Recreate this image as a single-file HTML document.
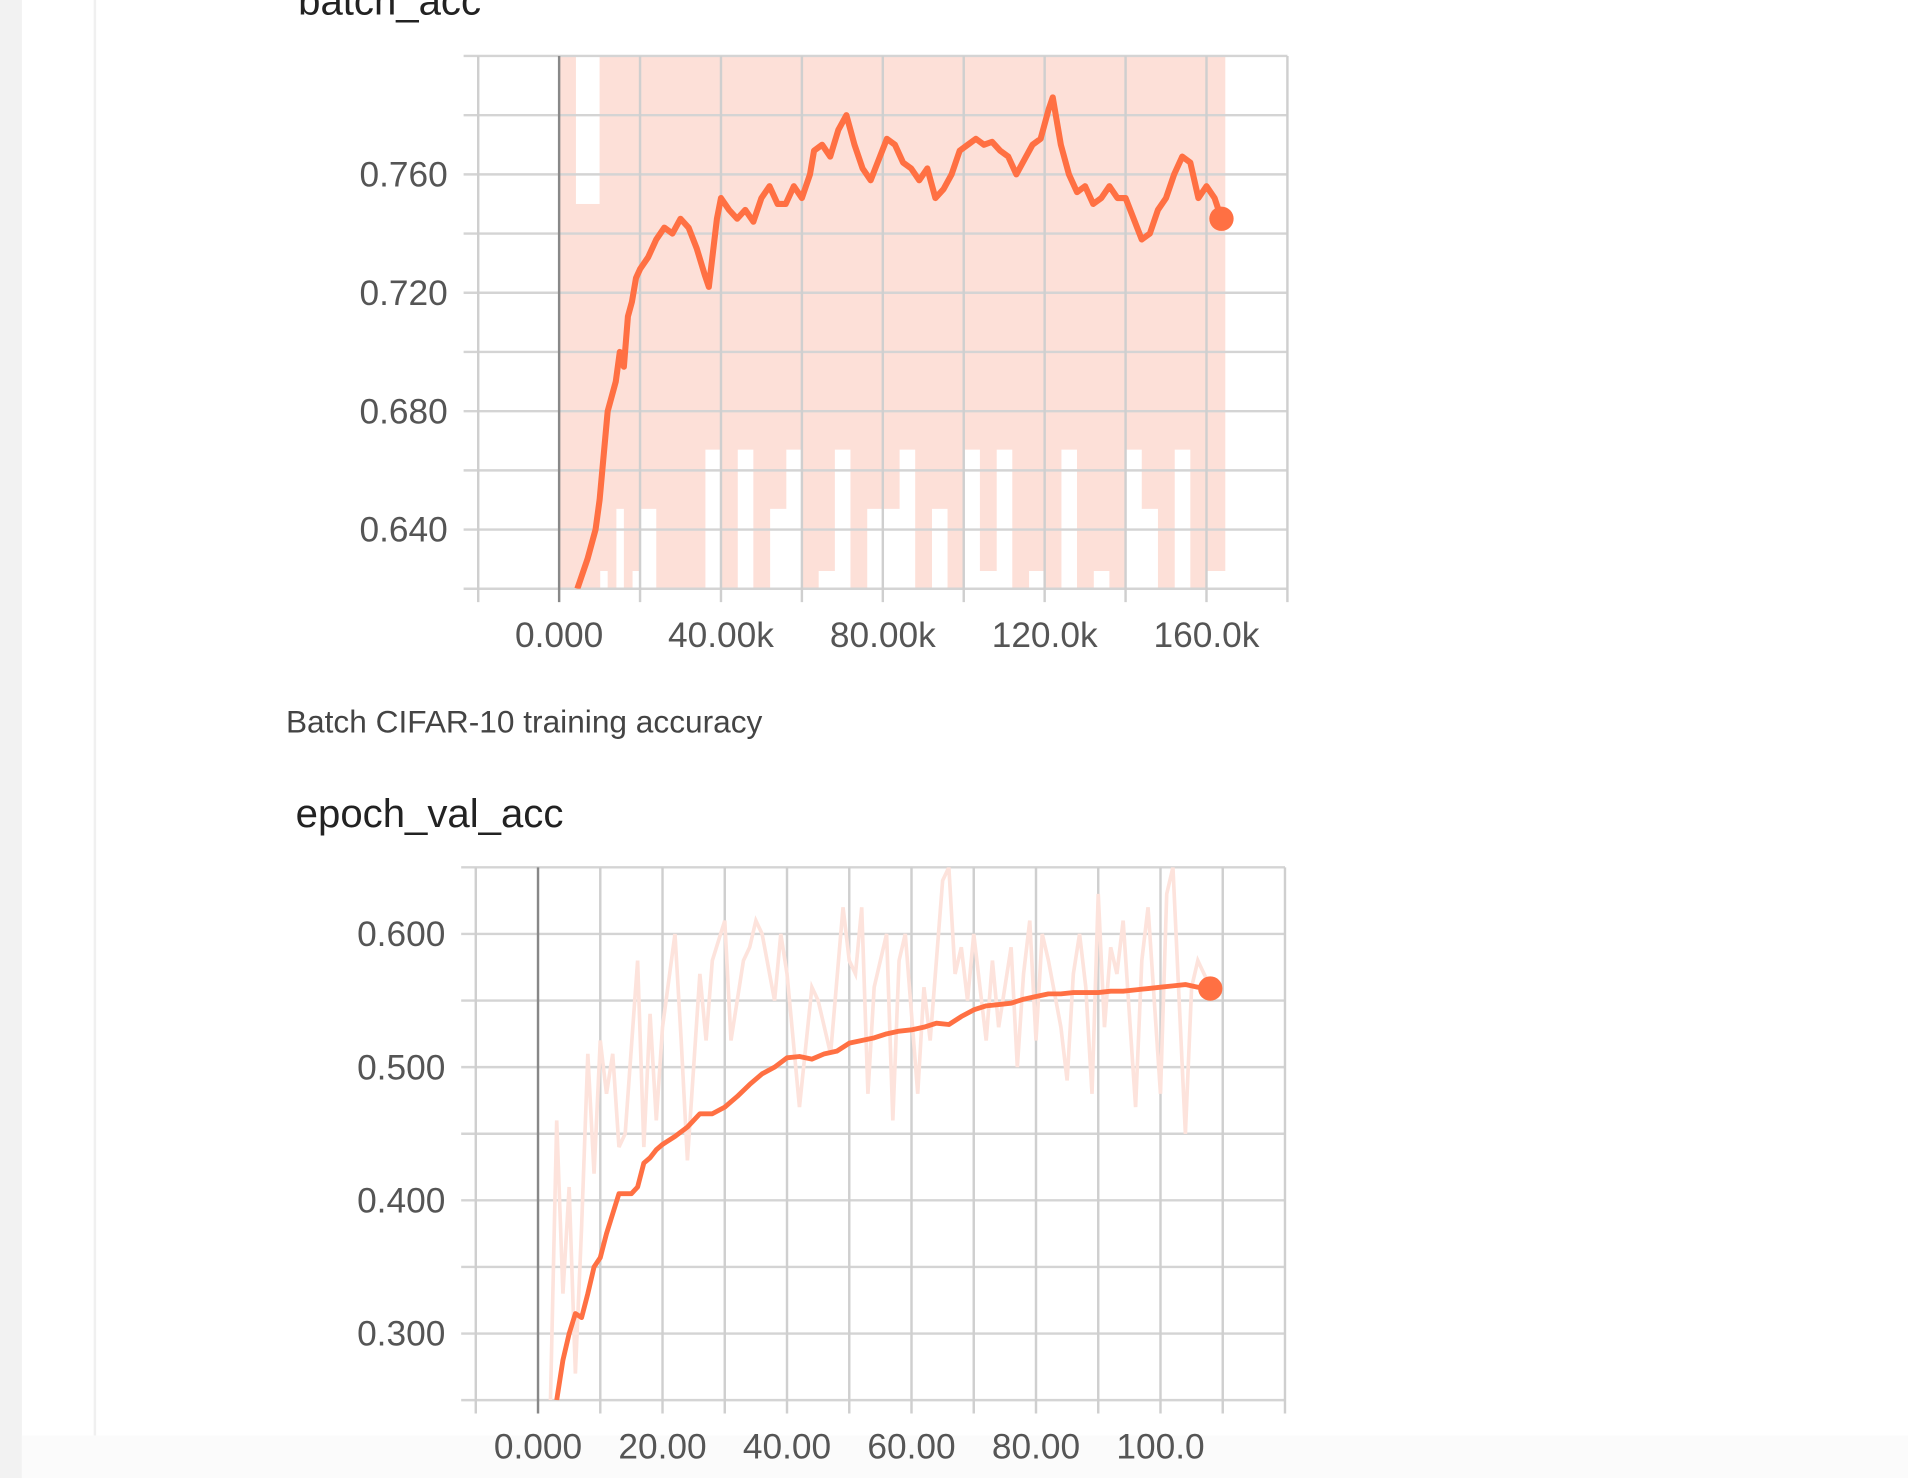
<!DOCTYPE html>
<html><head><meta charset="utf-8"><style>
html,body{margin:0;padding:0;background:#fff;width:1908px;height:1478px;overflow:hidden}
svg{display:block}
text{font-family:"Liberation Sans",sans-serif}
</style></head><body>
<svg id="s" width="1908" height="1478" viewBox="0 0 1568 1215" preserveAspectRatio="none">
<rect x="0" y="0" width="18" height="1215" fill="#f2f2f2"/>
<line x1="78" y1="0" x2="78" y2="1215" stroke="#f0f0f0" stroke-width="2"/>
<rect x="18" y="1180" width="1550" height="35" fill="#fbfbfb"/>
<text x="245" y="12" font-size="33" fill="#222">batch_acc</text>
<g id="c1"></g>
<text x="235" y="602" font-size="26" fill="#444">Batch CIFAR-10 training accuracy</text>
<text x="243" y="680" font-size="33" fill="#222">epoch_val_acc</text>
<g id="c2"></g>
</svg>
<script>
// ---- chart 1 data (step in thousands) ----
const batchSteps = [4.5,7,9,10,11,12,14,15,16,17,18,19,20,22,24,26,28,30,32,34,36,37,39,40,42,44,46,48,50,52,54,56,58,60,62,63,65,67,69,71,73,75,77,79,81,83,85,87,89,91,93,95,97,99,101,103,105,107,109,111,113,115,117,119,121,122,124,126,128,130,132,134,136,138,140,142,144,146,148,150,152,154,156,158,160,162,163.7];
const batchSmooth = [0.620,0.630,0.640,0.650,0.665,0.680,0.690,0.700,0.695,0.712,0.717,0.725,0.728,0.732,0.738,0.742,0.740,0.745,0.742,0.735,0.726,0.722,0.745,0.752,0.748,0.745,0.748,0.744,0.752,0.756,0.750,0.750,0.756,0.752,0.760,0.768,0.770,0.766,0.775,0.780,0.770,0.762,0.758,0.765,0.772,0.770,0.764,0.762,0.758,0.762,0.752,0.755,0.760,0.768,0.770,0.772,0.770,0.771,0.768,0.766,0.760,0.765,0.770,0.772,0.782,0.786,0.770,0.760,0.754,0.756,0.750,0.752,0.756,0.752,0.752,0.745,0.738,0.740,0.748,0.752,0.760,0.766,0.764,0.752,0.756,0.752,0.745];
const rawBucketStart = [0,2,4,8,10,12,14,16,18,20,24,28,32,36,40,44,48,52,56,60,64,68,72,76,80,84,88,92,96,100,104,108,112,116,120,124,128,132,136,140,144,148,152,156,160];
const rawHigh = [0.8,0.8,0.75,0.75,0.8,0.8,0.8,0.8,0.8,0.8,0.8,0.8,0.8,0.8,0.8,0.8,0.8,0.8,0.8,0.8,0.8,0.8,0.8,0.8,0.8,0.8,0.8,0.8,0.8,0.8,0.8,0.8,0.8,0.8,0.8,0.8,0.8,0.8,0.8,0.8,0.8,0.8,0.8,0.8,0.8];
const rawLow = [0.62,0.62,0.62,0.62,0.626,0.62,0.647,0.62,0.626,0.647,0.62,0.62,0.62,0.667,0.62,0.667,0.62,0.647,0.667,0.62,0.626,0.667,0.62,0.647,0.647,0.667,0.62,0.647,0.62,0.667,0.626,0.667,0.62,0.626,0.62,0.667,0.62,0.626,0.62,0.667,0.647,0.62,0.667,0.62,0.626];
const yTicks1 = ["0.640","0.680","0.720","0.760"];
const xTicks1 = ["0.000","40.00k","80.00k","120.0k","160.0k"];
// ---- chart 2 data ----
const epochs = [3,4,5,6,7,8,9,10,11,12,13,14,15,16,17,18,19,20,22,24,26,28,30,32,34,36,38,40,42,44,46,48,50,52,54,56,58,60,62,64,66,68,70,72,74,76,78,80,82,84,86,88,90,92,94,96,98,100,102,104,106,108];
const valSmooth = [0.25,0.28,0.30,0.315,0.312,0.33,0.35,0.357,0.375,0.39,0.405,0.405,0.405,0.41,0.428,0.432,0.438,0.442,0.448,0.455,0.465,0.465,0.47,0.478,0.487,0.495,0.5,0.507,0.508,0.506,0.51,0.512,0.518,0.52,0.522,0.525,0.527,0.528,0.53,0.533,0.532,0.538,0.543,0.546,0.547,0.548,0.551,0.553,0.555,0.555,0.556,0.556,0.556,0.557,0.557,0.558,0.559,0.56,0.561,0.562,0.56,0.559];
const rawEpochs = [2,3,4,5,6,7,8,9,10,11,12,13,14,16,17,18,19,20,22,23,24,26,27,28,30,31,33,34,35,36,38,39,40,42,44,45,47,49,50,51,52,53,54,56,57,58,59,61,62,63,65,66,67,68,69,70,72,73,74,76,77,78,79,80,81,82,84,85,86,87,88,89,90,91,92,93,94,96,97,98,99,100,101,102,103,104,105,106,107,108];
const valRaw = [0.25,0.46,0.33,0.41,0.27,0.38,0.51,0.42,0.52,0.48,0.51,0.44,0.45,0.58,0.44,0.54,0.46,0.53,0.60,0.52,0.43,0.57,0.52,0.58,0.61,0.52,0.58,0.59,0.61,0.60,0.55,0.60,0.57,0.47,0.56,0.55,0.51,0.62,0.58,0.57,0.62,0.48,0.56,0.60,0.46,0.58,0.60,0.48,0.56,0.52,0.64,0.65,0.57,0.59,0.55,0.60,0.52,0.58,0.53,0.59,0.50,0.57,0.61,0.52,0.60,0.58,0.53,0.49,0.57,0.60,0.56,0.48,0.63,0.53,0.59,0.57,0.61,0.47,0.58,0.62,0.55,0.48,0.63,0.65,0.55,0.45,0.56,0.58,0.57,0.56];
const yTicks2 = ["0.300","0.400","0.500","0.600"];
const xTicks2 = ["0.000","20.00","40.00","60.00","80.00","100.0"];

const NS="http://www.w3.org/2000/svg";
function mk(p,tag,a){const e=document.createElementNS(NS,tag);for(const k in a)e.setAttribute(k,a[k]);p.appendChild(e);return e;}

function chart(g,o){
  const X=v=>o.x0+(v-o.xmin)/(o.xmax-o.xmin)*(o.x1-o.x0);
  const Y=v=>o.y1-(v-o.ymin)/(o.ymax-o.ymin)*(o.y1-o.y0);
  for(let v=o.ymin;v<=o.ymax+1e-9;v+=o.yminor){
    const l=mk(g,'line',{x1:o.x0-12,x2:o.x1,y1:Y(v),y2:Y(v),stroke:'#d4d4d4','stroke-width':2});
    
    
  }
  for(let v=o.xmin;v<=o.xmax+1e-9;v+=o.xminor){
    const l=mk(g,'line',{x1:X(v),x2:X(v),y1:o.y0,y2:o.y1+11,stroke:Math.abs(v)<1e-9?'#888':'#cfcfcf','stroke-width':2});
    
    
  }
  o.yT.forEach((t,i)=>{const e=mk(g,'text',{x:o.x0-25,y:Y(parseFloat(t))+10,'font-size':29,fill:'#555','text-anchor':'end'});e.textContent=t;
    
    });
  o.xT.forEach((t,i)=>{const v=i*o.xstep;const e=mk(g,'text',{x:X(v),y:o.y1+48,'font-size':29,fill:'#555','text-anchor':'middle'});e.textContent=t;
    
    });
  return {X,Y};
}

// chart 1
const g1=document.getElementById('c1');
const o1={x0:393,x1:1058,y0:46,y1:484,xmin:-20,xmax:180,ymin:0.62,ymax:0.80,yminor:0.02,xminor:20,xstep:40,yT:yTicks1,xT:xTicks1};
const clip1=mk(g1,'clipPath',{id:'cp1'});mk(clip1,'rect',{x:393,y:46,width:665,height:438});
const band=mk(g1,'g',{'clip-path':'url(#cp1)'});
const a1=(()=>{const X=v=>o1.x0+(v-o1.xmin)/(o1.xmax-o1.xmin)*(o1.x1-o1.x0);const Y=v=>o1.y1-(v-o1.ymin)/(o1.ymax-o1.ymin)*(o1.y1-o1.y0);return {X,Y};})();
rawBucketStart.forEach((s,i)=>{
  const e=i+1<rawBucketStart.length?rawBucketStart[i+1]:164.5;
  const r=mk(band,'rect',{x:a1.X(s),width:a1.X(e)-a1.X(s)+0.5,y:a1.Y(rawHigh[i]),height:a1.Y(rawLow[i])-a1.Y(rawHigh[i]),fill:'#fde0d8'});
  
  
});
const ax1=chart(g1,o1);
const p1=mk(g1,'polyline',{points:batchSteps.map((s,i)=>ax1.X(s)+','+ax1.Y(batchSmooth[i])).join(' '),fill:'none',stroke:'#ff7043','stroke-width':5,'stroke-linejoin':'round','clip-path':'url(#cp1)'});


const d1=mk(g1,'circle',{cx:ax1.X(batchSteps[batchSteps.length-1]),cy:ax1.Y(batchSmooth[batchSmooth.length-1]),r:10,fill:'#ff7043'});



// chart 2
const g2=document.getElementById('c2');
const o2={x0:391,x1:1056,y0:713,y1:1151,xmin:-10,xmax:120,ymin:0.25,ymax:0.65,yminor:0.05,xminor:10,xstep:20,yT:yTicks2,xT:xTicks2};
const ax2=chart(g2,o2);
const clip2=mk(g2,'clipPath',{id:'cp2'});mk(clip2,'rect',{x:391,y:713,width:665,height:438});
const r2=mk(g2,'polyline',{points:rawEpochs.map((s,i)=>ax2.X(s)+','+ax2.Y(valRaw[i])).join(' '),fill:'none',stroke:'#fde3dc','stroke-width':3,'clip-path':'url(#cp2)'});


const p2=mk(g2,'polyline',{points:epochs.map((s,i)=>ax2.X(s)+','+ax2.Y(valSmooth[i])).join(' '),fill:'none',stroke:'#ff7043','stroke-width':4,'stroke-linejoin':'round','clip-path':'url(#cp2)'});


const d2=mk(g2,'circle',{cx:ax2.X(epochs[epochs.length-1]),cy:ax2.Y(valSmooth[valSmooth.length-1]),r:10,fill:'#ff7043'});


</script>
</body></html>
